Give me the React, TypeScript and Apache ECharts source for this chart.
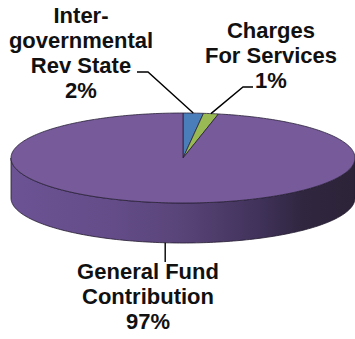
import React, { useEffect, useRef } from "react";
import * as echarts from "echarts";

// Data (clockwise from 12 o'clock)
const categories = ["Inter-\ngovernmental\nRev State", "Charges\nFor Services", "General Fund\nContribution"];
const values = [1.9, 1.4, 96.7];
const colors = ["#4a7ebb", "#98b954", "#765a9a"];

// Layout (not data)
const CX = 183, CY = 158, RX = 172, RY = 45, DEPTH = 40;
const FONT = "bold 22px 'Liberation Sans', Arial, sans-serif";
const labelLayout = [
  { tx: 81, ty: 3, leader: [[137, 72], [148, 72]], end: "top" },
  { tx: 271, ty: 18, leader: [[253, 87], [243, 87]], end: "top" },
  { tx: 148, ty: 259, leader: [[null, 262]], end: "bottom" },
];

const total = values.reduce((a, b) => a + b, 0);

function pt(th: number, dy = 0): number[] {
  return [CX + RX * Math.sin(th), CY - RY * Math.cos(th) + dy];
}
function arc(a: number, b: number, dy = 0): number[][] {
  const n = Math.max(2, Math.ceil(Math.abs(b - a) / 0.02));
  const out: number[][] = [];
  for (let k = 0; k <= n; k++) out.push(pt(a + ((b - a) * k) / n, dy));
  return out;
}

function renderItem(params: any, api: any) {
  const i = params.dataIndex;
  const v = api.value(0);
  let before = 0;
  for (let k = 0; k < i; k++) before += values[k];
  const a0 = (before / total) * Math.PI * 2;
  const a1 = a0 + (v / total) * Math.PI * 2;
  const children: any[] = [];
  // side wall (front half)
  const s = Math.max(a0, Math.PI / 2), e = Math.min(a1, (3 * Math.PI) / 2);
  if (s < e) {
    const pts = arc(s, e).concat(arc(e, s, DEPTH));
    children.push({
      type: "polygon",
      z2: 1,
      shape: { points: pts },
      style: {
        fill: {
          type: "linear", x: CX - RX, y: 0, x2: CX + RX, y2: 0, global: true,
          colorStops: [
            { offset: 0, color: "#6c5394" },
            { offset: 0.3, color: "#634c88" },
            { offset: 0.5, color: "#594478" },
            { offset: 0.72, color: "#40325a" },
            { offset: 0.85, color: "#30263f" },
            { offset: 1, color: "#2c2338" },
          ],
        },
        stroke: "#241c30",
        lineWidth: 0.8,
      },
    });
  }
  // top face
  children.push({
    type: "polygon",
    z2: 2,
    shape: { points: [[CX, CY]].concat(arc(a0, a1)) },
    style: { fill: colors[i], stroke: "#2a2238", lineWidth: 0.8 },
  });
  // leader line + label
  const lay = labelLayout[i];
  const mid = (a0 + a1) / 2;
  const anchor = lay.end === "top" ? pt(mid) : pt(mid, DEPTH);
  const lp = lay.leader.map((p) => [p[0] == null ? anchor[0] : p[0], p[1]]);
  children.push({
    type: "polyline",
    z2: 3,
    shape: { points: lp.concat([anchor]) },
    style: { stroke: "#000", lineWidth: 1.4, fill: null },
  });
  const pct = Math.round((v / total) * 100) + "%";
  children.push({
    type: "text",
    z2: 4,
    x: lay.tx,
    y: lay.ty,
    style: {
      text: categories[i] + "\n" + pct,
      font: FONT,
      lineHeight: 25,
      fill: "#111",
      align: "center",
      verticalAlign: "top",
    },
  });
  return { type: "group", children };
}

export default function App() {
  const ref = useRef<HTMLDivElement>(null);
  useEffect(() => {
    document.body.style.margin = "0";
    const chart = echarts.init(ref.current!, null, { renderer: "svg" });
    chart.setOption({
      animation: false,
      backgroundColor: "#fff",
      series: [
        {
          type: "custom",
          coordinateSystem: "none",
          renderItem,
          data: values.map((v) => [v]),
        },
      ],
    });
    return () => chart.dispose();
  }, []);
  return <div ref={ref} style={{ width: 355, height: 339 }} />;
}
